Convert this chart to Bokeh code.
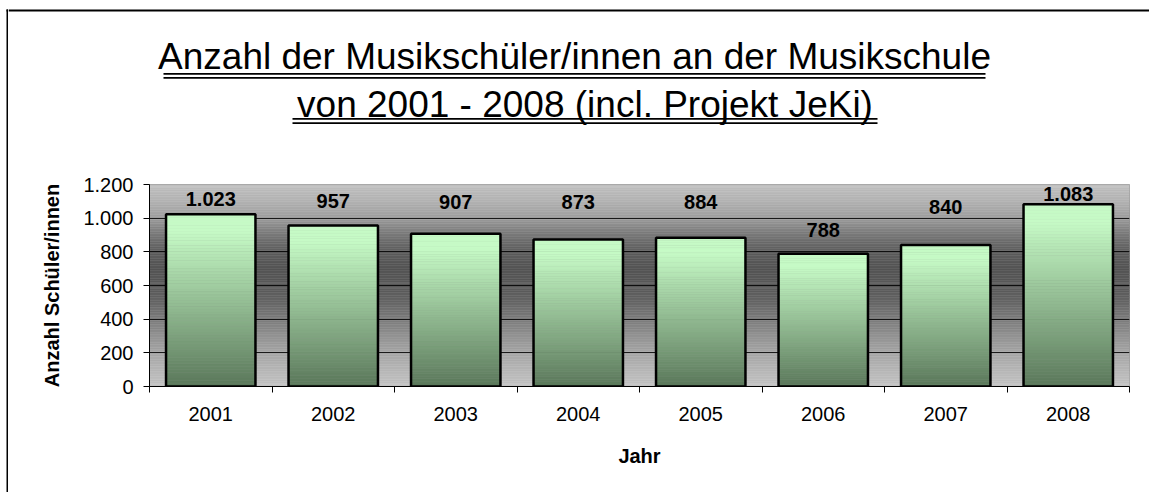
import numpy as np
from bokeh.plotting import figure
from bokeh.layouts import column, row
from bokeh.models import Range1d, FixedTicker, LabelSet, ColumnDataSource
from bokeh.embed import file_html
from bokeh.resources import INLINE
from bokeh.core.properties import value

# ---------------- data ----------------
years = ["2001", "2002", "2003", "2004", "2005", "2006", "2007", "2008"]
students = [1023, 957, 907, 873, 884, 788, 840, 1083]
y_ticks = [0, 200, 400, 600, 800, 1000, 1200]
title_lines = ["Anzahl der Musikschüler/innen an der Musikschule",
               "von 2001 - 2008 (incl. Projekt JeKi)"]
x_title = "Jahr"
y_title = "Anzahl Schüler/innen"

# ---------------- layout / style ----------------
FONT = "Liberation Sans"
W, H = 1149, 492
STRIP = 8                  # left strip holding the chart border
TOP_H = 158                # title area height
FL, FR, FT, FB = 149, 1129, 184, 386      # plot frame in page pixels
N = len(years)
Y_MAX = y_ticks[-1]
label_offsets = [15, 24, 32, 38, 36, 24, 38, 10]   # px from bar top to label


def blank(width, height, x0, y0):
    f = figure(width=width, height=height, output_backend="svg", toolbar_location=None,
               x_range=Range1d(x0, x0 + width), y_range=Range1d(y0 + height, y0),
               x_axis_type=None, y_axis_type=None, min_border=0, title=None,
               frame_align=False)
    f.outline_line_color = None
    f.background_fill_color = "white"
    f.border_fill_color = "white"
    return f


# ---- left strip: left edge of chart border ----
strip = blank(STRIP, H, 0, 0)
strip.segment(x0=[7, 6], y0=[9, 10], x1=[7, STRIP], y1=[H, 10], line_color="black", line_width=2)

# ---- title area ----
top = blank(W - STRIP, TOP_H, STRIP, 0)
top.segment(x0=[STRIP], y0=[10], x1=[W], y1=[10], line_color="black", line_width=2)
title_cx = [574, 584.5]
title_base = [55.5, 103.5]
top.text(x=title_cx, y=title_base, text=title_lines, text_align="center",
         text_baseline="alphabetic", text_font=value(FONT),
         text_font_size=value("37px"), text_color="black")
ul_left = [163, 163, 292, 292]
ul_right = [985, 985, 877, 877]
ul_top = [72.5, 76.5, 117.5, 121.7]
top.quad(left=ul_left, right=ul_right, top=ul_top, bottom=[t + 1.8 for t in ul_top],
         fill_color="black", line_alpha=0)

# ---- chart ----
MH = H - TOP_H
p = figure(width=W - STRIP, height=MH, x_range=Range1d(0, N), y_range=Range1d(0, Y_MAX),
           output_backend="svg", toolbar_location=None, title=None, frame_align=False,
           min_border_left=FL - STRIP, min_border_right=W - FR,
           min_border_top=FT - TOP_H, min_border_bottom=MH - (FB - TOP_H))
p.background_fill_color = "white"
p.border_fill_color = "white"
p.outline_line_color = "#9a9a9a"

# plot area gradient background
bg_stops_v = [0, 100, 200, 300, 400, 500, 600, 700, 800, 900, 1000, 1100, 1200]
bg_stops_g = [194, 182, 166, 146, 124, 102, 88, 85, 92, 118, 156, 178, 192]
step = 10
b_bottom = list(range(0, Y_MAX, step))
b_top = [b + step for b in b_bottom]
b_col = []
for b in b_bottom:
    g = int(round(np.interp(b + step / 2, bg_stops_v, bg_stops_g)))
    b_col.append("#%02x%02x%02x" % (g, g, g))
bg = p.quad(left=0, right=N, bottom=b_bottom, top=b_top, fill_color=b_col,
            line_color=b_col, line_width=0.5)
bg.level = "image"

# grid / axes
p.xgrid.visible = False
p.ygrid.grid_line_color = "black"
p.ygrid.grid_line_width = 1
p.ygrid.grid_line_alpha = 0.85

centers = [i + 0.5 for i in range(N)]

p.yaxis.ticker = FixedTicker(ticks=y_ticks)
p.yaxis.major_label_overrides = {t: f"{t:,}".replace(",", ".") for t in y_ticks}
p.yaxis.minor_tick_line_color = None
p.yaxis.major_tick_out = 6
p.yaxis.major_tick_in = 0
p.yaxis.major_label_standoff = 10
p.yaxis.axis_label = y_title
p.yaxis.axis_label_standoff = 17

p.xaxis.ticker = FixedTicker(ticks=centers, minor_ticks=list(range(N + 1)))
p.xaxis.major_label_overrides = {c: y for c, y in zip(centers, years)}
p.xaxis.major_tick_out = 0
p.xaxis.major_tick_in = 0
p.xaxis.minor_tick_out = 6
p.xaxis.minor_tick_in = 0
p.xaxis.minor_tick_line_color = "black"
p.xaxis.major_label_standoff = 14
p.xaxis.axis_label = x_title
p.xaxis.axis_label_standoff = 21

for ax in (p.xaxis, p.yaxis):
    ax.axis_line_color = "black"
    ax.axis_line_width = 1
    ax.major_tick_line_color = "black"
    ax.major_label_text_font = FONT
    ax.major_label_text_font_size = "20px"
    ax.major_label_text_color = "black"
    ax.axis_label_text_font = FONT
    ax.axis_label_text_font_size = "20px"
    ax.axis_label_text_font_style = "bold"
    ax.axis_label_text_color = "black"

# gradient bars
BAR_W = 0.73
SEG = 60
top_rgb = np.array([198, 250, 198])
bot_rgb = np.array([90, 119, 90])
sx, st, sb, sc = [], [], [], []
for c, v in zip(centers, students):
    for k in range(SEG):
        f = (k + 0.5) / SEG
        t = min(1.0, f / 0.9)
        rgb = bot_rgb + (top_rgb - bot_rgb) * t
        sx.append(c)
        sb.append(v * k / SEG)
        st.append(v * (k + 1) / SEG)
        sc.append("#%02x%02x%02x" % tuple(int(round(x)) for x in rgb))
p.vbar(x=sx, width=BAR_W, top=st, bottom=sb, fill_color=sc, line_color=sc, line_width=0.6)
p.vbar(x=centers, width=BAR_W, top=students, bottom=0, fill_alpha=0,
       line_color="black", line_width=2.5)

# value labels
lab_src = ColumnDataSource(dict(x=centers, y=students,
                                txt=[f"{v:,}".replace(",", ".") for v in students],
                                off=label_offsets))
p.add_layout(LabelSet(x="x", y="y", text="txt", source=lab_src, y_offset="off",
                      text_align="center", text_baseline="middle",
                      text_font=value(FONT), text_font_size=value("20px"),
                      text_font_style="bold", text_color="black"))

layout = row(strip, column(top, p, spacing=0), spacing=0)
open("out.html", "w").write(file_html(layout, INLINE))
